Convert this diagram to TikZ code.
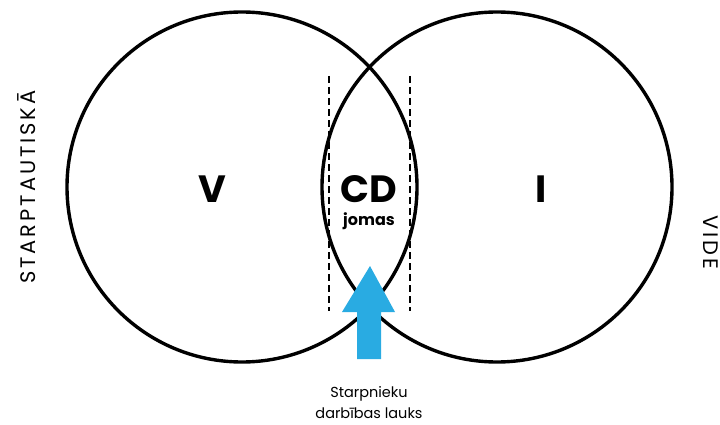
\documentclass[tikz,border=0pt]{standalone}
\usepackage{fontspec}
\setmainfont{Poppins}
\definecolor{arrowblue}{HTML}{29ABE2}
\begin{document}
\begin{tikzpicture}[x=1pt, y=1pt]
			\useasboundingbox (0,0) rectangle (720,424);
			\tikzset{ring/.style = {draw, line width = 3.4pt},
				guide/.style = {line width = 1.3pt, dash pattern = on 7pt off 4pt},
				bigletter/.style = {inner sep = 0pt, font = \fontsize{38}{40}\selectfont\bfseries},
				sidelabel/.style = {font = \fontsize{21}{24}\selectfont\addfontfeature{LetterSpace=14}}}
			\node[ring, circle, minimum size = 350pt] (left) at (242,237) {};
			\node[ring, circle, minimum size = 350pt] (right) at (497,237) {};
			\coordinate (dashlt) at (329,348);
			\coordinate (dashlb) at (329,113);
			\coordinate (dashrt) at (410,348);
			\coordinate (dashrb) at (410,113);
			\draw[guide] (dashlt) -- (dashlb);
			\draw[guide] (dashrt) -- (dashrb);
			\node[bigletter] (v) at (212,235) {V};
			\node[bigletter] (cd) at (369,235) {CD};
			\node[inner sep = 0pt, font = \fontsize{16}{18}\selectfont\bfseries] (jomas) at (369,203) {jomas};
			\node[bigletter] (i) at (541,235) {I};
			\fill[arrowblue] (357,65) -- (357,112) -- (342,112) -- (370,158) -- (395,112) -- (381,112) -- (381,65) -- cycle;
			\node[align = center, inner sep = 0pt, font = \fontsize{14.5}{21}\selectfont] (field) at (369,21) {Starpnieku \\ darbības lauks};
			\node[sidelabel, rotate = 90] (inter) at (27,237) {STARPTAUTISKĀ};
			\node[sidelabel, rotate = -90] (vide) at (711,182) {VIDE};
		\end{tikzpicture}
\end{document}
